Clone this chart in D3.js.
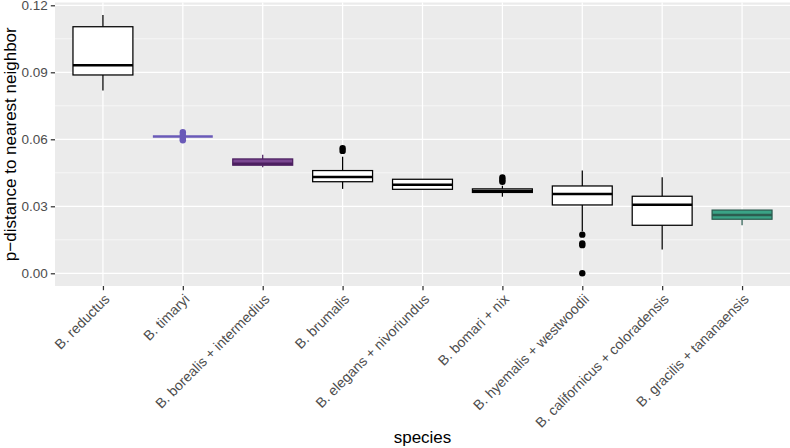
<!DOCTYPE html>
<html>
<head>
<meta charset="utf-8">
<script src="https://cdn.jsdelivr.net/npm/d3@7"></script>
<style>
  body { margin: 0; background: #fff; }
  text { font-family: "Liberation Sans", Arial, Helvetica, sans-serif; }
</style>
</head>
<body>
<div id="chart"></div>
<script>
// Data
var species = ["B. reductus", "B. timaryi", "B. borealis + intermedius", "B. brumalis",
  "B. elegans + nivoriundus", "B. bomari + nix", "B. hyemalis + westwoodii",
  "B. californicus + coloradensis", "B. gracilis + tananaensis"];
var whiskerLow = [0.0818, 0.0612, 0.0475, 0.0378, 0.0376, 0.0343, 0.0188, 0.0107, 0.0215];
var q1 = [0.0888, 0.0612, 0.0484, 0.0410, 0.0376, 0.0362, 0.0306, 0.0215, 0.0242];
var median = [0.0931, 0.0612, 0.0491, 0.0431, 0.0397, 0.0369, 0.0355, 0.0307, 0.0261];
var q3 = [0.1104, 0.0612, 0.0512, 0.0460, 0.0421, 0.0378, 0.0391, 0.0345, 0.0283];
var whiskerHigh = [0.1157, 0.0612, 0.0531, 0.0522, 0.0421, 0.0392, 0.0460, 0.0430, 0.0283];
var outliers = [[], [0.0632, 0.0620, 0.0604, 0.0596], [], [0.0560, 0.0548], [],
  [0.0429, 0.0419, 0.0410], [0.0173, 0.0134, 0.0126, 0.0000], [], []];
var yTicks = [0.00, 0.03, 0.06, 0.09, 0.12];
var yMinor = [0.015, 0.045, 0.075, 0.105];

// colours for the highlighted groups (others white with black outline)
var fills = { "B. timaryi": "#6a5ab8", "B. borealis + intermedius": "#7a4791", "B. gracilis + tananaensis": "#3aa386" };
var strokes = { "B. timaryi": "#6a5ab8", "B. borealis + intermedius": "#4c1f60", "B. gracilis + tananaensis": "#2c5d50" };

var svgWidth = 790;
var svgHeight = 448;
var panel = { left: 55, right: 790, top: 2.5, bottom: 286 };

var svg = d3.select("#chart")
  .append("svg")
  .attr("width", svgWidth)
  .attr("height", svgHeight);

var x = d3.scalePoint()
  .domain(species)
  .range([panel.left, panel.right])
  .padding(0.6);

var y = d3.scaleLinear()
  .domain([-0.00569, 0.12125])
  .range([panel.bottom, panel.top]);

var boxW = x.step() * 0.75;

// panel background
svg.append("rect")
  .attr("x", panel.left)
  .attr("y", panel.top)
  .attr("width", panel.right - panel.left)
  .attr("height", panel.bottom - panel.top)
  .attr("fill", "#ebebeb");

// grid lines
svg.append("g").selectAll("line")
  .data(yMinor)
  .enter().append("line")
  .attr("x1", panel.left).attr("x2", panel.right)
  .attr("y1", d => y(d)).attr("y2", d => y(d))
  .attr("stroke", "#fff").attr("stroke-width", 0.6);

svg.append("g").selectAll("line")
  .data(yTicks)
  .enter().append("line")
  .attr("x1", panel.left).attr("x2", panel.right)
  .attr("y1", d => y(d)).attr("y2", d => y(d))
  .attr("stroke", "#fff").attr("stroke-width", 1.25);

svg.append("g").selectAll("line")
  .data(species)
  .enter().append("line")
  .attr("x1", d => x(d)).attr("x2", d => x(d))
  .attr("y1", panel.top).attr("y2", panel.bottom)
  .attr("stroke", "#fff").attr("stroke-width", 1.25);

// boxes
var boxes = svg.append("g").selectAll("g")
  .data(species)
  .enter().append("g");

boxes.each(function(s, i) {
  var g = d3.select(this);
  var cx = x(s);
  var fill = fills[s] || "#fff";
  var stroke = strokes[s] || "#000";

  // whiskers
  g.append("line")
    .attr("x1", cx).attr("x2", cx)
    .attr("y1", y(q3[i])).attr("y2", y(whiskerHigh[i]))
    .attr("stroke", stroke).attr("stroke-width", 1.25);
  g.append("line")
    .attr("x1", cx).attr("x2", cx)
    .attr("y1", y(q1[i])).attr("y2", y(whiskerLow[i]))
    .attr("stroke", stroke).attr("stroke-width", 1.25);

  // box
  g.append("rect")
    .attr("x", cx - boxW / 2)
    .attr("y", y(q3[i]))
    .attr("width", boxW)
    .attr("height", y(q1[i]) - y(q3[i]))
    .attr("fill", fill)
    .attr("stroke", stroke)
    .attr("stroke-width", 1.25);

  // median
  g.append("line")
    .attr("x1", cx - boxW / 2).attr("x2", cx + boxW / 2)
    .attr("y1", y(median[i])).attr("y2", y(median[i]))
    .attr("stroke", stroke).attr("stroke-width", 2.5);

  // outliers
  g.selectAll("circle")
    .data(outliers[i])
    .enter().append("circle")
    .attr("cx", cx)
    .attr("cy", d => y(d))
    .attr("r", 3.2)
    .attr("fill", stroke);
});

// y axis
var yAxis = svg.append("g")
  .attr("transform", `translate(${panel.left},0)`)
  .call(d3.axisLeft(y).tickValues(yTicks).tickFormat(d3.format(".2f")).tickSizeOuter(0).tickSize(4.2).tickPadding(3));
yAxis.select(".domain").remove();
yAxis.selectAll(".tick line").attr("stroke", "#333").attr("stroke-width", 1.25);
yAxis.selectAll(".tick text")
  .attr("fill", "#4d4d4d")
  .style("font-size", "13.5px")
  .attr("dy", "0.34em");

// x axis
var xAxis = svg.append("g")
  .attr("transform", `translate(0,${panel.bottom})`)
  .call(d3.axisBottom(x).tickSizeOuter(0).tickSize(4.2));
xAxis.select(".domain").remove();
xAxis.selectAll(".tick line").attr("stroke", "#333").attr("stroke-width", 1.25);
xAxis.selectAll(".tick text")
  .attr("fill", "#4d4d4d")
  .style("font-size", "14px")
  .attr("text-anchor", "end")
  .attr("x", 0)
  .attr("y", 0)
  .attr("dy", "0.72em")
  .attr("transform", "translate(0,7) rotate(-45)");

// axis titles
svg.append("text")
  .attr("x", (panel.left + panel.right) / 2)
  .attr("y", 443)
  .attr("text-anchor", "middle")
  .attr("fill", "#000")
  .style("font-size", "17px")
  .text("species");

svg.append("text")
  .attr("transform", `translate(16,${(panel.top + panel.bottom) / 2}) rotate(-90)`)
  .attr("text-anchor", "middle")
  .attr("fill", "#000")
  .style("font-size", "17px")
  .text("p\u2212distance to nearest neighbor");
</script>
</body>
</html>
